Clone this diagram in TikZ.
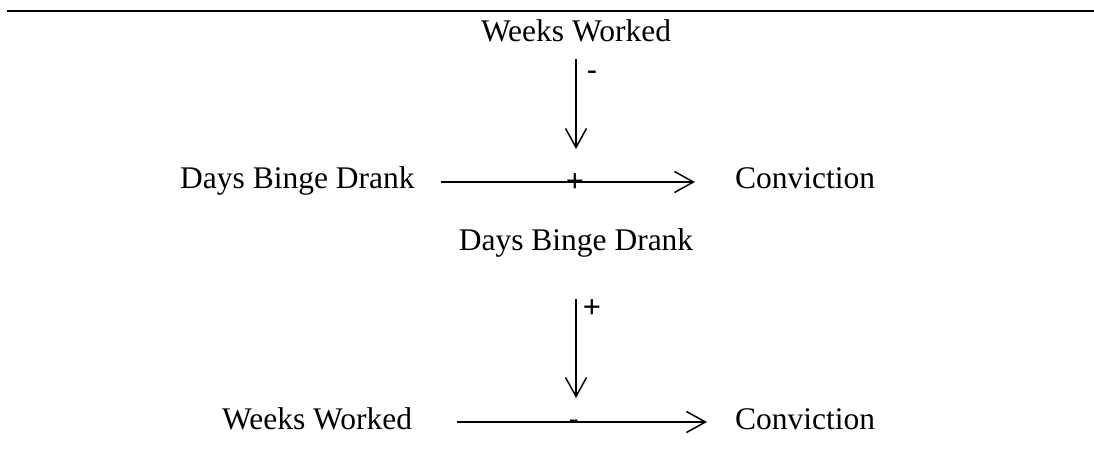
\documentclass[tikz,border=0pt]{standalone}
\usepackage{fontspec}
\setmainfont{Liberation Serif}
\newfontfamily\signfont{Liberation Sans}
\usetikzlibrary{arrows.meta,positioning}

\begin{document}
\begin{tikzpicture}[x=1pt,y=-1pt,
    var/.style={inner sep=0pt,text height=21pt,text depth=7pt,font=\fontsize{31.5}{36}\selectfont},
    sign/.style={inner sep=0pt,font=\signfont\fontsize{31}{36}\selectfont},
    link/.style={line width=1.5pt,-{Straight Barb[length=19pt,width=21pt]}}]
    \useasboundingbox (0,0) rectangle (1094,457);
    \draw[line width=2.2pt] (7,11) -- (1094,11);
    % moderation by weeks worked
    \node[var,anchor=base] (ww1) at (576,42) {Weeks Worked};
    \node[var,anchor=base west] (dbd1) at (180,189) {Days Binge Drank};
    \node[var,anchor=base west] (cv1) at (735,189) {Conviction};
    % moderation by days binge drank
    \node[var,anchor=base] (dbd2) at (576,250) {Days Binge Drank};
    \node[var,anchor=base west] (ww2) at (222,429) {Weeks Worked};
    \node[var,anchor=base west] (cv2) at (735,429) {Conviction};
    \path[link]
    (dbd1.east)
    edge [shorten <=26pt,shorten >=40pt] node [sign,yshift=-1pt] {+} (cv1.west)
    (ww1.south)
    edge [shorten <=10pt,shorten >=33pt] node [sign,pos=0.2,xshift=16pt] {-} (ww1.south |- dbd1.east)
    (ww2.east)
    edge [shorten <=45pt,shorten >=28pt] node [sign,yshift=-3pt] {-} (cv2.west)
    (dbd2.south)
    edge [shorten <=42pt,shorten >=24pt] node [sign,pos=0.31,xshift=16pt] {+} (dbd2.south |- ww2.east)
    ;
\end{tikzpicture}
\end{document}
